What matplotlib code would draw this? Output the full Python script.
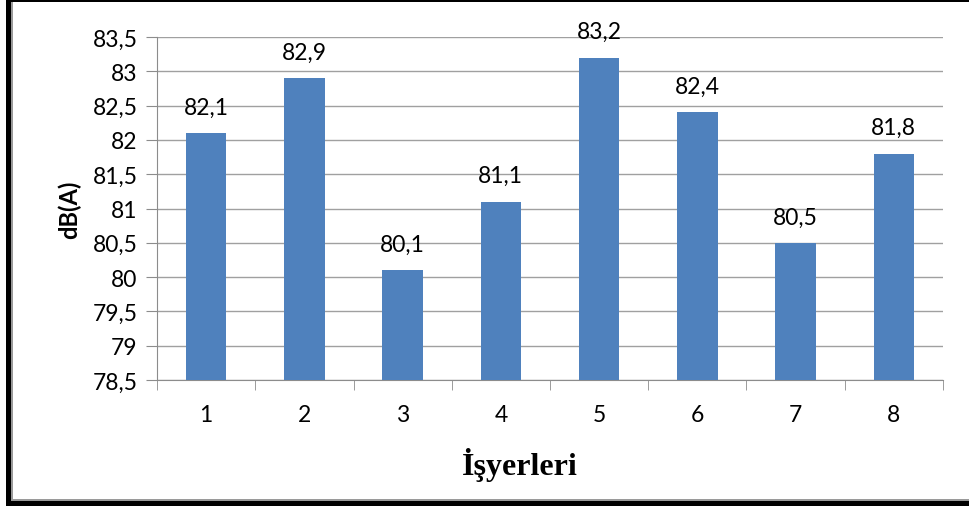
import numpy as np
import matplotlib.pyplot as plt
from matplotlib.patches import Rectangle

categories = ['1', '2', '3', '4', '5', '6', '7', '8']
values = [82.1, 82.9, 80.1, 81.1, 83.2, 82.4, 80.5, 81.8]
yticks = [78.5, 79, 79.5, 80, 80.5, 81, 81.5, 82, 82.5, 83, 83.5]

plt.rcParams['font.family'] = ['Lato', 'DejaVu Sans']

fig = plt.figure(figsize=(9.7, 5.1), dpi=100)
ax = fig.add_axes([157 / 970, 1 - 381 / 510, (943 - 157) / 970, (381 - 38) / 510])

x = np.arange(len(categories))
bars = ax.bar(x, values, width=0.41, color='#4F81BD', zorder=3)

ax.set_ylim(78.5, 83.5)
ax.set_xlim(-0.5, len(categories) - 0.5)
ax.set_yticks(yticks)
ax.set_yticklabels([('%g' % v).replace('.', ',') for v in yticks], fontsize=16.5)
ax.set_xticks(x)
ax.set_xticklabels(categories, fontsize=16.5)
ax.set_xticks(np.arange(len(categories) + 1) - 0.5, minor=True)
ax.tick_params(axis='x', which='major', length=0, pad=17)
ax.tick_params(axis='x', which='minor', length=7, color='#8c8c8c', direction='out')
ax.tick_params(axis='y', length=8, color='#8c8c8c', direction='out', pad=6)
ax.grid(axis='y', color='#a0a0a0', linewidth=1, zorder=0)
for s in ['top', 'right']:
    ax.spines[s].set_visible(False)
for s in ['left', 'bottom']:
    ax.spines[s].set_color('#8c8c8c')

for xi, v in zip(x, values):
    ax.annotate(('%g' % v).replace('.', ','), (xi, v), xytext=(0, 14),
                textcoords='offset points', ha='center', va='baseline', fontsize=16.5)

ax.set_ylabel('dB(A)', fontsize=17, fontweight='bold', labelpad=8)
fig.text(520 / 970, 1 - 465 / 510, 'İşyerleri', ha='center', va='center',
         fontsize=23, fontweight='bold', family=['Liberation Serif', 'DejaVu Serif'])

# frame around the figure
W, H = 970, 510
def frame(x0, y0, w, h, c):
    fig.patches.append(Rectangle((x0 / W, 1 - (y0 + h) / H), w / W, h / H,
                                 transform=fig.transFigure, color=c, lw=0))
frame(6, 0, 5, 507, 'black')
frame(11, 3, 2, 500, '#9a9a9a')
frame(6, 0, 964, 3, 'black')
frame(6, 502, 964, 5, 'black')
frame(13, 500, 957, 2, '#9a9a9a')

fig.savefig('out.png', dpi=100)
